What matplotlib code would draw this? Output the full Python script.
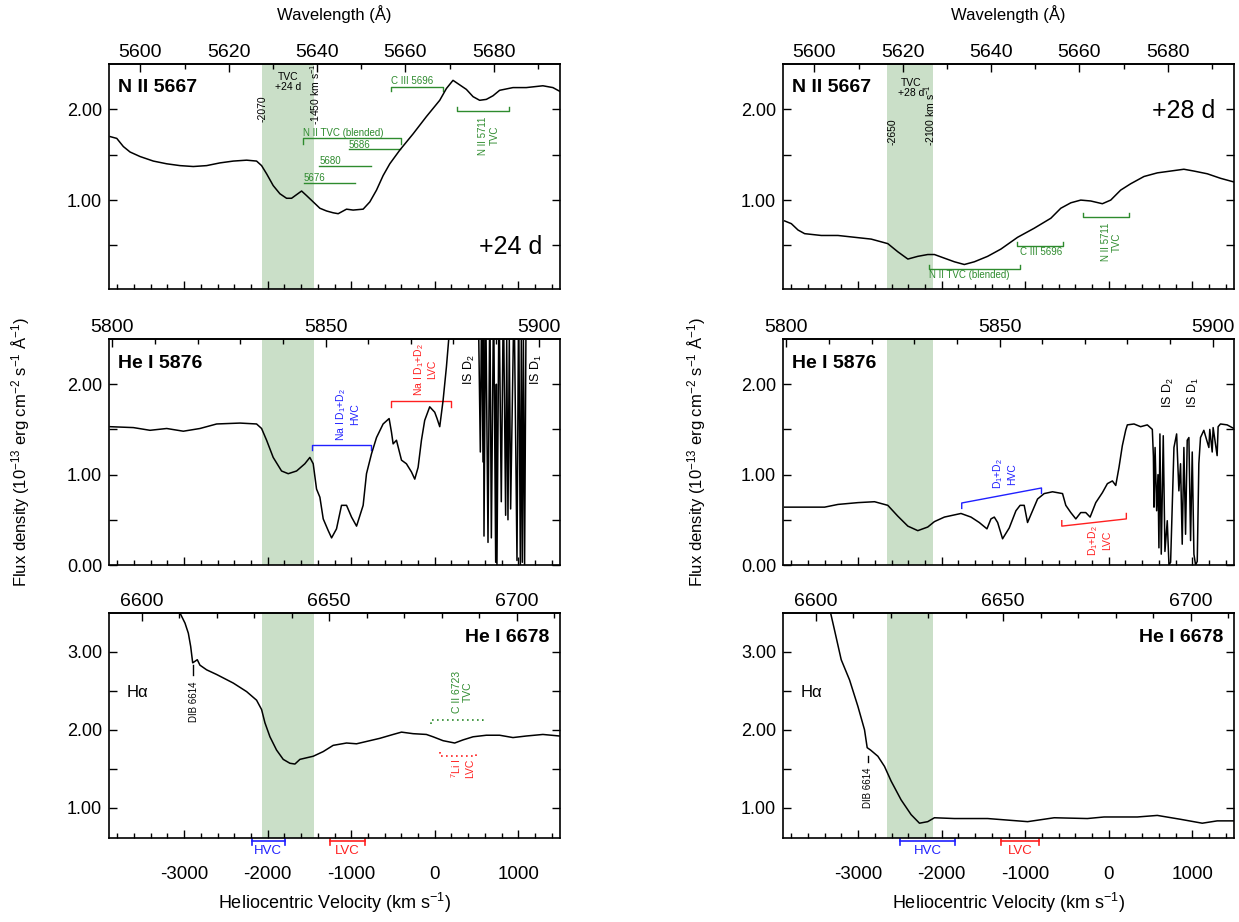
import numpy as np
import matplotlib
matplotlib.use('Agg')
import matplotlib.pyplot as plt

plt.rcParams['font.family'] = ['Liberation Sans', 'DejaVu Sans']
plt.rcParams['mathtext.fontset'] = 'custom'
plt.rcParams['mathtext.rm'] = 'Liberation Sans'
plt.rcParams['mathtext.it'] = 'Liberation Sans:italic'
plt.rcParams['mathtext.bf'] = 'Liberation Sans:bold'
plt.rcParams['mathtext.default'] = 'regular'
plt.rcParams['axes.unicode_minus'] = False
plt.rcParams['axes.linewidth'] = 1.2

C_KMS = 299792.458
GREEN = '#2e8b2e'
BLUE = '#2020ff'
RED = '#ff2020'
BAND = '#cadfc8'

# rest wavelengths (A)
lam_n2 = 5666.63
lam_he5876 = 5875.62
lam_he6678 = 6678.15

# TVC windows (km/s)
tvc_24 = [-2070, -1450]
tvc_28 = [-2650, -2100]

# HVC / LVC ranges below the bottom panels
hvc_24 = [-2193, -1794]
lvc_24 = [-1256, -837]
hvc_28 = [-2494, -1840]
lvc_28 = [-1291, -833]

# N II 5667, +24 d
v_n2_24 = [-3887, -3807, -3728, -3648, -3528, -3369, -3209, -3050, -2891, -2731, -2571, -2412, -2252, -2133,
           -2073, -2013, -1934, -1854, -1774, -1714, -1654, -1594, -1535, -1455, -1375, -1295, -1216, -1156,
           -1056, -977, -857, -777, -697, -618, -538, -419, -259, -100, 60, 140, 219, 299, 379, 459, 538, 618,
           698, 777, 937, 1096, 1295, 1415, 1495]
f_n2_24 = [1.70, 1.68, 1.59, 1.53, 1.48, 1.43, 1.40, 1.38, 1.37, 1.38, 1.41, 1.43, 1.44, 1.43,
           1.38, 1.29, 1.16, 1.07, 1.02, 1.02, 1.06, 1.10, 1.05, 0.98, 0.91, 0.88, 0.86, 0.85,
           0.90, 0.89, 0.90, 0.98, 1.11, 1.27, 1.40, 1.55, 1.73, 1.92, 2.10, 2.23, 2.32, 2.27, 2.22, 2.14, 2.10, 2.11,
           2.15, 2.21, 2.24, 2.24, 2.26, 2.24, 2.20]

# N II 5667, +28 d
v_n2_28 = [-3880, -3800, -3720, -3641, -3442, -3242, -3043, -2844, -2645, -2525, -2405, -2286, -2167, -2087,
           -1968, -1848, -1729, -1609, -1450, -1291, -1091, -892, -693, -574, -454, -335, -215, -76, 24, 143,
           263, 422, 582, 741, 900, 1020, 1180, 1339, 1498]
f_n2_28 = [0.77, 0.74, 0.67, 0.63, 0.61, 0.61, 0.59, 0.57, 0.52, 0.43, 0.35, 0.38, 0.40, 0.40,
           0.36, 0.32, 0.29, 0.32, 0.38, 0.46, 0.59, 0.69, 0.80, 0.91, 0.97, 1.00, 0.99, 0.96, 1.00, 1.11,
           1.18, 1.26, 1.30, 1.32, 1.34, 1.32, 1.29, 1.24, 1.20]

# He I 5876, +24 d (values above 2.5 are off scale)
v_he1_24 = [-3887, -3608, -3409, -3209, -3010, -2811, -2611, -2332, -2133, -2073, -2013, -1934, -1834, -1754,
            -1654, -1555, -1495, -1455, -1415, -1375, -1335, -1275, -1235, -1176, -1116, -1056, -996, -936,
            -857, -817, -757, -697, -618, -546, -518, -498, -458, -398, -339, -279, -239, -199, -159, -120,
            -60, 0, 28, 60, 100, 140, 167, 200, 520, 546, 562, 578, 584, 590, 610, 638, 660, 678, 705, 730,
            738, 745, 770, 797, 822, 849, 862, 877, 893, 909, 950, 985, 1005, 1025, 1037, 1049, 1062, 1076,
            1095, 1500]
f_he1_24 = [1.53, 1.52, 1.49, 1.51, 1.48, 1.51, 1.56, 1.57, 1.56, 1.51, 1.38, 1.19, 1.04, 1.01,
            1.04, 1.12, 1.19, 1.12, 0.84, 0.75, 0.51, 0.38, 0.30, 0.40, 0.66, 0.66, 0.53, 0.43,
            0.66, 1.01, 1.23, 1.41, 1.56, 1.62, 1.47, 1.34, 1.38, 1.16, 1.12, 1.03, 0.95, 1.08, 1.38, 1.60,
            1.75, 1.69, 1.62, 1.53, 1.82, 2.19, 2.49, 3.0, 3.0, 1.25, 3.0, 1.14, 2.6, 0.32, 3.0, 0.25, 3.0, 0.30, 3.0, 0.03,
            2.0, 0.0, 3.0, 0.70, 3.0, 0.55, 2.5, 0.50, 2.5, 0.62, 3.0, 0.05, 3.0, 0.0, 2.5, 0.03, 2.5, 0.0,
            3.0, 3.0]

# He I 5876, +28 d
v_he1_28 = [-3880, -3641, -3402, -3242, -3003, -2804, -2645, -2525, -2405, -2286, -2167, -2087, -1968, -1769,
            -1649, -1550, -1458, -1410, -1370, -1330, -1271, -1191, -1111, -1061, -1012, -972, -912, -852,
            -773, -673, -553, -514, -454, -394, -335, -275, -223, -155, -76, -16, 44, 84, 123, 163, 203, 223,
            303, 382, 462, 522, 535, 542, 555, 574, 590, 601, 613, 629, 653, 673, 701, 721, 741, 781, 813,
            840, 860, 880, 900, 920, 940, 960, 980, 1000, 1020, 1040, 1060, 1079, 1099, 1139, 1199, 1210,
            1239, 1250, 1298, 1310, 1338, 1418, 1498]
f_he1_28 = [0.64, 0.64, 0.64, 0.67, 0.69, 0.70, 0.66, 0.54, 0.43, 0.38, 0.42, 0.48, 0.53, 0.57,
            0.53, 0.47, 0.40, 0.51, 0.53, 0.47, 0.29, 0.41, 0.60, 0.66, 0.66, 0.47, 0.60, 0.73,
            0.79, 0.81, 0.79, 0.66, 0.58, 0.51, 0.58, 0.58, 0.53, 0.69, 0.80, 0.90, 0.93, 0.88, 1.08, 1.32, 1.49, 1.55,
            1.56, 1.53, 1.55, 1.50, 1.20, 0.64, 1.30, 0.60, 1.00, 0.19, 1.45, 0.12, 1.43, 0.15, 0.49, 0.0, 0.03, 1.30, 1.45,
            0.82, 1.12, 0.23, 1.30, 0.34, 1.38, 1.41, 0.27, 1.25, 0.12, 0.0, 0.04, 1.12, 1.41, 1.49, 1.30, 1.50,
            1.25, 1.52, 1.21, 1.53, 1.56, 1.55, 1.51]

# He I 6678, +24 d (H-alpha wing off scale at left)
v_he2_24 = [-3900, -3150, -3050, -2990, -2950, -2922, -2898, -2870, -2843, -2811, -2731, -2611, -2412, -2252,
            -2133, -2073, -2033, -1973, -1894, -1814, -1734, -1674, -1614, -1535, -1455, -1335, -1216, -1056,
            -936, -817, -658, -498, -398, -259, -100, -20, 100, 239, 339, 459, 618, 777, 937, 1096, 1295, 1495]
f_he2_24 = [6.0, 3.75, 3.50, 3.37, 3.24, 3.07, 2.86, 2.88, 2.90, 2.83, 2.77, 2.71, 2.60, 2.49,
            2.38, 2.26, 2.09, 1.91, 1.74, 1.62, 1.57, 1.56, 1.62, 1.64, 1.66, 1.72, 1.80, 1.83,
            1.82, 1.85, 1.89, 1.94, 1.97, 1.95, 1.94, 1.91, 1.86, 1.83, 1.87, 1.91, 1.93, 1.93, 1.90, 1.92, 1.94, 1.92]

# He I 6678, +28 d
v_he2_28 = [-3900, -3400, -3330, -3283, -3203, -3103, -3003, -2924, -2892, -2852, -2764, -2685, -2605, -2486,
            -2366, -2266, -2167, -2087, -1848, -1450, -971, -653, -255, -56, 343, 582, 861, 1120, 1299, 1498]
f_he2_28 = [5.5, 3.8, 3.50, 3.28, 2.90, 2.64, 2.30, 2.00, 1.77, 1.74, 1.66, 1.53, 1.34, 1.10,
            0.91, 0.80, 0.82, 0.87, 0.86, 0.86, 0.82, 0.87, 0.86, 0.88, 0.88, 0.90, 0.85, 0.80, 0.83, 0.83]


fig = plt.figure(figsize=(12.39, 9.22), dpi=100)
W, H = 1239., 922.


def add_ax(x0, y0, x1, y1):
    return fig.add_axes([x0 / W, 1 - y1 / H, (x1 - x0) / W, (y1 - y0) / H])


def setup(ax, lam0, ylim, yticks, ylabels, wl_major, wl_minor, bottom):
    ax.set_xlim(-3900, 1500)
    ax.set_ylim(*ylim)
    ax.set_xticks(np.arange(-3000, 1001, 1000))
    ax.set_xticks(np.arange(-3800, 1500, 200), minor=True)
    ax.set_yticks(yticks)
    ax.set_yticklabels(ylabels)
    ax.tick_params(axis='x', which='both', direction='in', top=False, labelbottom=bottom,
                   labelsize=13.5, pad=20)
    ax.tick_params(axis='x', which='major', length=6, width=1)
    ax.tick_params(axis='x', which='minor', length=3.5, width=1)
    ax.tick_params(axis='y', which='both', direction='in', right=True, length=6, width=1,
                   labelsize=13, pad=5)
    sec = ax.secondary_xaxis('top', functions=(lambda v: lam0 * (1 + v / C_KMS),
                                               lambda w: (w / lam0 - 1) * C_KMS))
    sec.set_xticks(wl_major, labels=[str(w) for w in wl_major])
    sec.set_xticks(wl_minor, minor=True)
    sec.tick_params(which='both', direction='in', labelsize=14, pad=2)
    sec.tick_params(which='major', length=6, width=1)
    sec.tick_params(which='minor', length=3.5, width=1)


def bracket(ax, x0, x1, y0, y1, tick, color, ls='-', lw=1.0):
    ax.plot([x0, x0, x1, x1], [y0 + tick, y0, y1, y1 + tick], color=color, lw=lw, ls=ls)


def vel_bar(ax, rng, color, label):
    tr = ax.get_xaxis_transform()
    x0, x1 = rng
    ax.plot([x0, x1], [-0.012, -0.012], color=color, lw=1.2, transform=tr, clip_on=False)
    for x in rng:
        ax.plot([x, x], [-0.004, -0.03], color=color, lw=1.2, transform=tr, clip_on=False)
    ax.text((x0 + x1) / 2, -0.058, label, color=color, fontsize=9.5, ha='center', va='center',
            transform=tr)


cols = [109, 783]
rows = [(64, 289), (339, 565), (613, 838)]
axs = [[add_ax(cx, y0, cx + 451, y1) for cx in cols] for (y0, y1) in rows]

for c in range(2):
    setup(axs[0][c], lam_n2, (0.02, 2.5), [0.5, 1, 1.5, 2], ['', '1.00', '', '2.00'],
          np.arange(5600, 5700, 20), np.arange(5590, 5710, 10), False)
    setup(axs[1][c], lam_he5876, (0, 2.5), [0, 0.5, 1, 1.5, 2], ['0.00', '', '1.00', '', '2.00'],
          [5800, 5850, 5900], np.arange(5790, 5920, 10), False)
    setup(axs[2][c], lam_he6678, (0.61, 3.5), [1, 1.5, 2, 2.5, 3], ['1.00', '', '2.00', '', '3.00'],
          [6600, 6650, 6700], np.arange(6590, 6720, 10), True)

spectra = [[(v_n2_24, f_n2_24), (v_n2_28, f_n2_28)],
           [(v_he1_24, f_he1_24), (v_he1_28, f_he1_28)],
           [(v_he2_24, f_he2_24), (v_he2_28, f_he2_28)]]
bands = [tvc_24, tvc_28]
for r in range(3):
    for c in range(2):
        ax = axs[r][c]
        ax.axvspan(bands[c][0], bands[c][1], color=BAND, lw=0, zorder=0)
        v, f = spectra[r][c]
        ax.plot(v, f, color='black', lw=1.1, zorder=3)

# ---- top row: N II 5667 ----
for c in range(2):
    axs[0][c].text(0.02, 0.896, 'N II 5667', transform=axs[0][c].transAxes, fontsize=14,
                   fontweight='bold', ha='left', va='center')
    axs[1][c].text(0.02, 0.892, 'He I 5876', transform=axs[1][c].transAxes, fontsize=14,
                   fontweight='bold', ha='left', va='center')
    axs[2][c].text(0.977, 0.892, 'He I 6678', transform=axs[2][c].transAxes, fontsize=14,
                   fontweight='bold', ha='right', va='center')
    axs[2][c].text(0.039, 0.646, 'Hα', transform=axs[2][c].transAxes, fontsize=12,
                   ha='left', va='center')

ax = axs[0][0]
ax.text(-1754, 2.30, 'TVC\n+24 d', fontsize=7.5, ha='center', va='center', linespacing=1.0)
ax.text(-2065, 2.01, '-2070', fontsize=7.5, rotation=90, ha='center', va='center')
ax.text(-1435, 2.17, '-1450 km s$^{-1}$', fontsize=7.5, rotation=90, ha='center', va='center')
bracket(ax, -518, 100, 2.25, 2.25, -0.05, GREEN)
ax.text(-518, 2.31, 'C III 5696', color=GREEN, fontsize=7, ha='left', va='center')
bracket(ax, 267, 889, 1.98, 1.98, 0.05, GREEN)
ax.text(646, 1.71, 'N II 5711\nTVC', color=GREEN, fontsize=7, rotation=90, ha='center', va='center')
bracket(ax, -1575, -407, 1.68, 1.68, -0.06, GREEN)
ax.text(-1575, 1.74, 'N II TVC (blended)', color=GREEN, fontsize=7, ha='left', va='center')
ax.plot([-1028, -418], [1.56, 1.56], color=GREEN, lw=1)
ax.text(-1036, 1.61, '5686', color=GREEN, fontsize=7, ha='left', va='center')
ax.plot([-1384, -765], [1.38, 1.38], color=GREEN, lw=1)
ax.text(-1384, 1.43, '5680', color=GREEN, fontsize=7, ha='left', va='center')
ax.plot([-1571, -949], [1.19, 1.19], color=GREEN, lw=1)
ax.text(-1571, 1.24, '5676', color=GREEN, fontsize=7, ha='left', va='center')
ax.text(0.89, 0.188, '+24 d', transform=ax.transAxes, fontsize=18, ha='center', va='center')

ax = axs[0][1]
ax.text(-2366, 2.23, 'TVC\n+28 d', fontsize=7.5, ha='center', va='center', linespacing=1.0)
ax.text(-2585, 1.75, '-2650', fontsize=7.5, rotation=90, ha='center', va='center')
ax.text(-2135, 1.93, '-2100 km s$^{-1}$', fontsize=7.5, rotation=90, ha='center', va='center')
ax.text(0.889, 0.791, '+28 d', transform=ax.transAxes, fontsize=18, ha='center', va='center')
bracket(ax, -2147, -1060, 0.24, 0.24, 0.05, GREEN)
ax.text(-2147, 0.17, 'N II TVC (blended)', color=GREEN, fontsize=7, ha='left', va='center')
bracket(ax, -1099, -546, 0.49, 0.49, 0.05, GREEN)
ax.text(-1060, 0.43, 'C III 5696', color=GREEN, fontsize=7, ha='left', va='center')
bracket(ax, -307, 243, 0.81, 0.81, 0.05, GREEN)
ax.text(32, 0.54, 'N II 5711\nTVC', color=GREEN, fontsize=7, rotation=90, ha='center', va='center')

# ---- middle row: He I 5876 ----
ax = axs[1][0]
bracket(ax, -1467, -757, 1.33, 1.33, -0.06, BLUE)
ax.text(-1048, 1.67, 'Na I D$_1$+D$_2$\nHVC', color=BLUE, fontsize=7.5, rotation=90,
        ha='center', va='center')
bracket(ax, -526, 199, 1.81, 1.81, -0.06, RED)
ax.text(-120, 2.16, 'Na I D$_1$+D$_2$\nLVC', color=RED, fontsize=7.5, rotation=90,
        ha='center', va='center')
ax.text(419, 2.16, 'IS D$_2$', fontsize=9, rotation=90, ha='center', va='center')
ax.text(1216, 2.16, 'IS D$_1$', fontsize=9, rotation=90, ha='center', va='center')

ax = axs[1][1]
bracket(ax, -1760, -805, 0.686, 0.852, -0.06, BLUE)
ax.text(-1251, 1.01, 'D$_1$+D$_2$\nHVC', color=BLUE, fontsize=7.5, rotation=90,
        ha='center', va='center')
bracket(ax, -562, 211, 0.43, 0.51, 0.06, RED)
ax.text(-116, 0.27, 'D$_1$+D$_2$\nLVC', color=RED, fontsize=7.5, rotation=90,
        ha='center', va='center')
ax.text(721, 1.91, 'IS D$_2$', fontsize=9, rotation=90, ha='center', va='center')
ax.text(1020, 1.91, 'IS D$_1$', fontsize=9, rotation=90, ha='center', va='center')

# ---- bottom row: He I 6678 ----
ax = axs[2][0]
ax.plot([-2890, -2890], [2.70, 2.83], color='black', lw=1)
ax.text(-2878, 2.36, 'DIB 6614', fontsize=7, rotation=90, ha='center', va='center')
bracket(ax, -40, 578, 2.13, 2.13, -0.05, GREEN, ls=(0, (1, 2)), lw=1.2)
ax.text(331, 2.49, 'C II 6723\nTVC', color=GREEN, fontsize=7.5, rotation=90, ha='center', va='center')
bracket(ax, 68, 490, 1.66, 1.66, 0.05, RED, ls=(0, (1, 2)), lw=1.2)
ax.text(331, 1.51, '$^7$Li I\nLVC', color=RED, fontsize=7.5, rotation=90, ha='center', va='center')
vel_bar(ax, hvc_24, BLUE, 'HVC')
vel_bar(ax, lvc_24, RED, 'LVC')

ax = axs[2][1]
ax.plot([-2884, -2884], [1.59, 1.66], color='black', lw=1)
ax.text(-2884, 1.25, 'DIB 6614', fontsize=7, rotation=90, ha='center', va='center')
vel_bar(ax, hvc_28, BLUE, 'HVC')
vel_bar(ax, lvc_28, RED, 'LVC')

# ---- figure labels ----
ylab = 'Flux density (10$^{-13}$ erg cm$^{-2}$ s$^{-1}$ Å$^{-1}$)'
for cx, yx in [(334.5, 21), (1008.5, 697)]:
    fig.text(cx / W, 1 - 14 / H, 'Wavelength (Å)', fontsize=12, ha='center', va='center')
    fig.text(cx / W, 1 - 903 / H, 'Heliocentric Velocity (km s$^{-1}$)', fontsize=13,
             ha='center', va='center')
    fig.text(yx / W, 1 - 452 / H, ylab, fontsize=12, rotation=90, ha='center', va='center')

fig.savefig('out.png', dpi=100)
